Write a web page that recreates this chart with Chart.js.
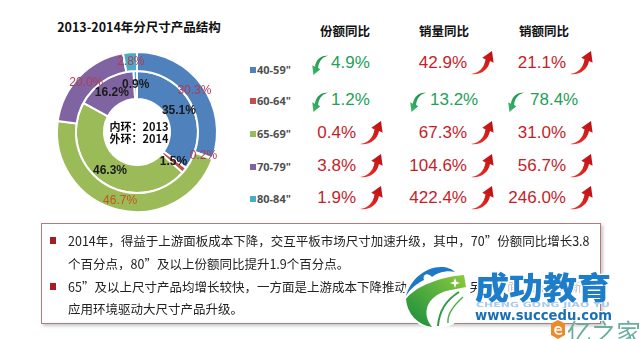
<!DOCTYPE html>
<html>
<head>
<meta charset="utf-8">
<script src="https://cdn.jsdelivr.net/npm/chart.js@4.4.1/dist/chart.umd.min.js"></script>
<style>
  html, body { margin: 0; padding: 0; background: #fff; }
  #page {
    position: relative; width: 640px; height: 339px; overflow: hidden; background: #fff;
    font-family: "Microsoft YaHei", "Noto Sans CJK SC", sans-serif;
  }
  .abs { position: absolute; white-space: nowrap; }
  #title { left: 0; width: 278px; top: 17px; text-align: center; font-size: 12.5px; font-weight: bold; color: #111; }
  .head { font-size: 12.5px; font-weight: bold; color: #111; width: 80px; margin-left: -40px; text-align: center; top: 21px; }
  .leg-box { width: 6px; height: 6px; }
  .leg-txt { font: bold 11px "Open Sans", "Liberation Sans", sans-serif; color: #505050; line-height: 16px; }
  .val { font: 17px "Liberation Sans", Arial, sans-serif; line-height: 20px; }
  .up { color: #C41E2A; }
  .down { color: #23A058; }
  #notes {
    left: 41px; top: 223px; width: 560px; height: 101px; box-sizing: border-box;
    border: 1px solid #B57A7C; box-shadow: 2px 2px 3px rgba(0,0,0,0.22); background: #fff;
  }
  .note { font-size: 12.5px; color: #222; line-height: 18px; }
  .bullet { width: 6px; height: 7px; background: #A51C24; }
</style>
</head>
<body>
<div id="page">
  <div id="title" class="abs">2013-2014年分尺寸产品结构</div>
  <div class="abs" style="left:37px; top:32px; width:200px; height:200px;">
    <canvas id="ring" width="200" height="200"></canvas>
  </div>
  <div id="notes" class="abs"></div>
  <svg width="0" height="0" style="position:absolute">
    <defs>
      <linearGradient id="redGrad" x1="0" y1="1" x2="1" y2="0">
        <stop offset="0" stop-color="#F03A2E"/>
        <stop offset="1" stop-color="#B80C10"/>
      </linearGradient>
      <linearGradient id="greenGrad" x1="1" y1="0" x2="0" y2="1">
        <stop offset="0" stop-color="#3DBA6A"/>
        <stop offset="1" stop-color="#0F8A42"/>
      </linearGradient>
      <linearGradient id="logoGreen" x1="1" y1="0" x2="0" y2="1">
        <stop offset="0" stop-color="#8CCB3E"/>
        <stop offset="1" stop-color="#168A3E"/>
      </linearGradient>
    </defs>
  </svg>
</div>
<script>
// size groups and their market share (%), inner ring 2013, outer ring 2014
const categories = ['40-59"', '60-64"', '65-69"', '70-79"', '80-84"'];
const share2013 = [35.1, 1.5, 46.3, 16.2, 0.9];
const share2014 = [30.3, 0.2, 46.7, 20.0, 2.8];

// year-on-year changes (%), negative = decline
const columnTitles = ['份额同比', '销量同比', '销额同比'];
const shareYoY = [-4.9, -1.2, 0.4, 3.8, 1.9];
const volumeYoY = [42.9, -13.2, 67.3, 104.6, 422.4];
const salesYoY = [21.1, -78.4, 31.0, 56.7, 246.0];

const ringColors = ['#4F81BD', '#C0504D', '#9BBB59', '#8064A2', '#4BACC6'];
const outerLabelColors = ['#B23A55', '#B23A55', '#C4561E', '#B23A55', '#B23A55'];

const page = document.getElementById('page');

// percentage labels on each slice + caption in the hole
const sliceLabels = {
  id: 'sliceLabels',
  afterDatasetsDraw(chart) {
    const ctx = chart.ctx;
    ctx.save();
    ctx.textAlign = 'center';
    ctx.textBaseline = 'middle';
    chart.data.datasets.forEach((ds, di) => {
      ctx.font = (di === 0 ? '' : 'bold ') + '12px "Liberation Sans", Arial, sans-serif';
      chart.getDatasetMeta(di).data.forEach((arc, i) => {
        const p = arc.tooltipPosition();
        ctx.fillStyle = di === 0 ? outerLabelColors[i] : '#1a1a1a';
        ctx.fillText(ds.data[i].toFixed(1) + '%', p.x, p.y);
      });
    });
    const c = chart.getDatasetMeta(0).data[0];
    ctx.font = 'bold 11px "Microsoft YaHei", "Noto Sans CJK SC", sans-serif';
    ctx.fillStyle = '#111';
    ctx.fillText('内环：2013', c.x + 2, c.y - 5);
    ctx.fillText('外环：2014', c.x + 2, c.y + 7);
    ctx.restore();
  }
};

new Chart(document.getElementById('ring'), {
  type: 'doughnut',
  data: {
    labels: categories,
    datasets: [
      { label: '2014', data: share2014, backgroundColor: ringColors, borderColor: '#fff', borderWidth: 2, weight: 19 },
      { label: '2013', data: share2013, backgroundColor: ringColors, borderColor: '#fff', borderWidth: 2, weight: 28 }
    ]
  },
  options: {
    responsive: false,
    animation: false,
    radius: 80,
    cutout: '41.25%',
    plugins: { legend: { display: false }, tooltip: { enabled: false } }
  },
  plugins: [sliceLabels]
});

function el(cls, html, css) {
  const d = document.createElement('div');
  d.className = 'abs ' + cls;
  d.innerHTML = html;
  Object.assign(d.style, css);
  page.appendChild(d);
  return d;
}

// legend rows
const legendY = [70, 101, 134, 167, 199];
categories.forEach((name, i) => {
  el('leg-box', '', { left: '250px', top: (legendY[i] - 3) + 'px', background: ringColors[i] });
  el('leg-txt', name, { left: '257px', top: (legendY[i] - 8) + 'px' });
});

// comparison table
const colCenter = [345, 444, 544];
const upRight = [356, 467, 566];
const downLeft = [312, 410, 508];
const downText = [331, 430, 530];
const rowY = [63, 100, 133, 166, 198];
const arrowPath = 'M1,23 C8,22 14,18 15.5,8.5 L12.3,6.8 L22,0 L23.6,11.7 L20,10 C18.5,19 10,24.5 1,23 Z';

columnTitles.forEach((t, c) => el('head', t, { left: colCenter[c] + 'px' }));

[shareYoY, volumeYoY, salesYoY].forEach((col, c) => {
  col.forEach((v, i) => {
    const txt = Math.abs(v).toFixed(1) + '%';
    const y = rowY[i];
    if (v >= 0) {
      el('val up', txt, { top: (y - 10) + 'px', right: (640 - upRight[c]) + 'px' });
      el('', '<svg width="24" height="24" viewBox="0 0 24 24"><path d="' + arrowPath + '" fill="url(#redGrad)"/></svg>',
        { left: (upRight[c] + 3) + 'px', top: (y - 12) + 'px', lineHeight: 0 });
    } else {
      el('', '<svg width="17" height="20" viewBox="0 0 24 24" preserveAspectRatio="none"><path d="' + arrowPath +
        '" fill="url(#greenGrad)" transform="rotate(180 12 12)"/></svg>',
        { left: downLeft[c] + 'px', top: (y - 8) + 'px', lineHeight: 0 });
      el('val down', txt, { top: (y - 10) + 'px', left: downText[c] + 'px' });
    }
  });
});

// commentary box
const noteLines = [
  { bullet: true, y: 241, text: '2014年，得益于上游面板成本下降，交互平板市场尺寸加速升级，其中，70”份额同比增长3.8' },
  { bullet: false, y: 264, text: '个百分点，80”及以上份额同比提升1.9个百分点。' },
  { bullet: true, y: 287, text: '65”及以上尺寸产品均增长较快，一方面是上游成本下降推动终端降价，另一方面，商用等新' },
  { bullet: false, y: 309, text: '应用环境驱动大尺寸产品升级。' }
];
noteLines.forEach(l => {
  if (l.bullet) el('bullet', '', { left: '50px', top: (l.y - 4) + 'px' });
  el('note', l.text, { left: '68px', top: (l.y - 9) + 'px' });
});

// site watermark
const wm = document.createElementNS('http://www.w3.org/2000/svg', 'svg');
wm.setAttribute('width', '640');
wm.setAttribute('height', '339');
wm.style.cssText = 'position:absolute;left:0;top:0;';
wm.innerHTML = `
  <circle cx="436" cy="297" r="32" fill="#fff"/>
  <rect x="484" y="276" width="120" height="22" fill="#fff" opacity="0.7"/>
  <path d="M406,296 C410,280 425,267 441,267 C447,267 452,269 455,272 C448,270 438,272 432,277 C428,272 422,274 424,280 C416,284 410,289 406,296 Z" fill="#1E78C8"/>
  <path d="M406,299 A30,30 0 0,0 432,327 C421,313 427,297 446,291 L466,287 L464,275 C440,277 416,286 406,299 Z" fill="url(#logoGreen)"/>
  <path d="M459,292 C446,300 439,312 438,326" fill="none" stroke="#2E9A46" stroke-width="2"/>
  <path d="M463,297 C453,306 447,315 448,323" fill="none" stroke="#4FAF4A" stroke-width="1.5"/>
  <path d="M455,278 L456.3,281.7 L460,283 L456.3,284.3 L455,288 L453.7,284.3 L450,283 L453.7,281.7 Z" fill="#fff"/>
  <text x="475" y="299" font-size="31" font-weight="900" fill="#1E7DC8" stroke="#fff" stroke-width="2.5"
        paint-order="stroke" textLength="136" lengthAdjust="spacingAndGlyphs"
        font-family="Noto Sans CJK SC, sans-serif">成功教育</text>
  <text x="476" y="307" font-size="7" font-weight="bold" fill="#A9CBE8" textLength="134"
        lengthAdjust="spacingAndGlyphs" font-family="DejaVu Sans, sans-serif">CHENG GONG JIAO YU</text>
  <text x="475" y="320" font-size="14" font-weight="bold" fill="#1A6FB5" stroke="#fff" stroke-width="2"
        paint-order="stroke" textLength="137" lengthAdjust="spacingAndGlyphs"
        font-family="DejaVu Sans, sans-serif">www.succedu.com</text>
  <path d="M558,320 L565,323.5 L565,335 L558,339 L551,335 L551,323.5 Z" fill="#EE8A2A"/>
  <path d="M555,330 L562,330 M555,330 C555,326 561,326 561,329 M555,330 C555,334 559,335 562,333" fill="none" stroke="#fff" stroke-width="1.6"/>
  <text x="567" y="343" font-size="26" fill="#6BAE9F" textLength="74" lengthAdjust="spacingAndGlyphs"
        font-family="Noto Sans CJK SC, sans-serif">亿之家</text>
`;
page.appendChild(wm);
</script>
</body>
</html>
